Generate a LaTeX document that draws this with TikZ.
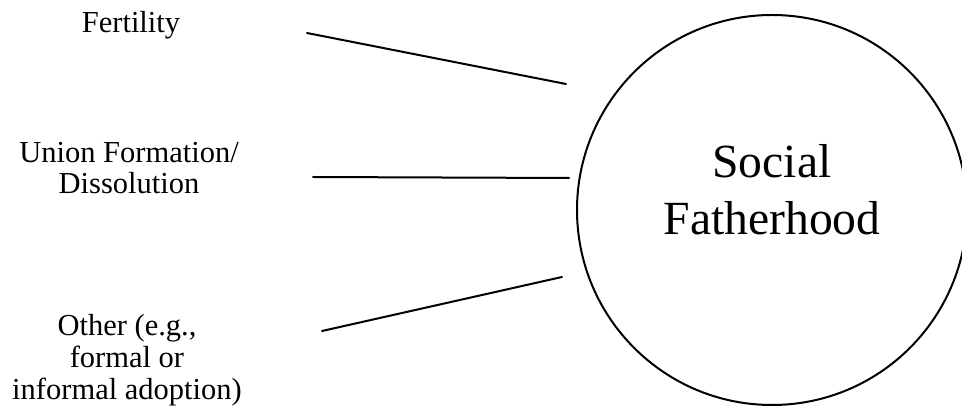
\documentclass[tikz,border=0pt]{standalone}
\usepackage{fontspec}
\setmainfont{Liberation Serif}
\begin{document}
\begin{tikzpicture}
% Pathways into social fatherhood
\def\pxsz{0.5pt}
\providecommand{\sfLineColor}{black}
\providecommand{\sfLineWidth}{1pt}
\tikzset{
  factor/.style={inner sep=0pt, align=center, font=\fontsize{15.25}{15.5}\selectfont},
  outcome/.style={inner sep=0pt, align=center, font=\fontsize{23.8}{28.5}\selectfont},
  link/.style={draw=\sfLineColor, line width=\sfLineWidth}
}
\begin{scope}[x=\pxsz, y=-\pxsz, line cap=round, line join=round]
  % Page frame
  \useasboundingbox (0,0) rectangle (962,410);
  % Outcome circle and its label
  \node[circle, draw=\sfLineColor, line width=\sfLineWidth, minimum size=195pt, inner sep=0pt] (fathcircle) at (772,210) {};
  \node[outcome] (fathlabel) at (772,190) {Social\\Fatherhood};
  % Factors
  \node[factor] (fertility) at (131,25) {Fertility};
  \node[factor] (union) at (129,168) {Union Formation/\\Dissolution};
  \node[factor, font=\fontsize{15.25}{16}\selectfont] (other) at (127,360) {Other (e.g.,\\formal or\\informal adoption)};
  % Loose line ends
  \coordinate (fertility-out) at (307,33);
  \coordinate (fertility-in) at (566,84);
  \coordinate (union-out) at (313,177);
  \coordinate (union-in) at (569,178);
  \coordinate (other-out) at (322,331);
  \coordinate (other-in) at (562,277);
  % Links
  \draw[link] (fertility-out) -- (fertility-in);
  \draw[link] (union-out) -- (union-in);
  \draw[link] (other-out) -- (other-in);
\end{scope}
\end{tikzpicture}
\end{document}
